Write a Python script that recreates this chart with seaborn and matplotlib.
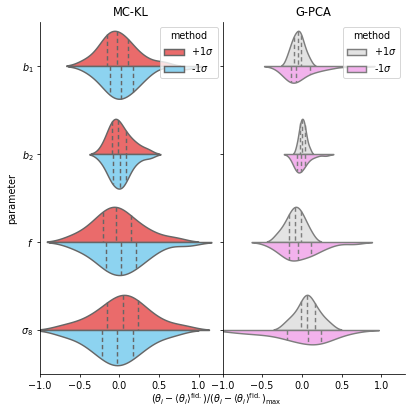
import pandas as pd
import matplotlib.pyplot as plt
import seaborn as sns

# parameters (y categories) and the two hue levels
params = ["$b_1$", "$b_2$", "$f$", "$\\sigma_8$"]
methods = ["+1$\\sigma$", "-1$\\sigma$"]

# MC-KL samples (quartiles match the dashed lines)
mckl_b1_plus = [-0.45, -0.32, -0.25, -0.20, -0.17, -0.15, -0.12, -0.10, -0.08, -0.05,
                -0.02, 0.01, 0.04, 0.07, 0.10, 0.13, 0.18, 0.25, 0.35, 0.55]
mckl_b1_minus = [-0.40, -0.28, -0.22, -0.17, -0.13, -0.11, -0.08, -0.05, -0.03, 0.0,
                 0.03, 0.06, 0.09, 0.12, 0.16, 0.19, 0.23, 0.29, 0.38, 0.80]
mckl_b2_plus = [-0.22, -0.16, -0.13, -0.11, -0.10, -0.09, -0.07, -0.05, -0.035, -0.02,
                -0.01, 0.01, 0.03, 0.06, 0.08, 0.12, 0.15, 0.20, 0.26, 0.36]
mckl_b2_minus = [-0.24, -0.17, -0.13, -0.11, -0.095, -0.083, -0.06, -0.04, -0.02, 0.0,
                 0.012, 0.03, 0.045, 0.06, 0.078, 0.095, 0.13, 0.18, 0.25, 0.38]
mckl_f_plus = [-0.62, -0.45, -0.36, -0.29, -0.24, -0.20, -0.16, -0.12, -0.09, -0.06,
               -0.03, 0.0, 0.04, 0.08, 0.13, 0.18, 0.25, 0.34, 0.46, 0.70]
mckl_f_minus = [-0.58, -0.42, -0.32, -0.25, -0.19, -0.155, -0.12, -0.08, -0.04, 0.0,
                0.03, 0.07, 0.11, 0.15, 0.20, 0.24, 0.30, 0.38, 0.50, 0.85]
mckl_s8_plus = [-0.70, -0.48, -0.36, -0.26, -0.19, -0.14, -0.09, -0.04, 0.0, 0.03,
                0.065, 0.10, 0.14, 0.18, 0.22, 0.27, 0.33, 0.42, 0.55, 0.80]
mckl_s8_minus = [-0.72, -0.52, -0.40, -0.32, -0.26, -0.21, -0.16, -0.12, -0.08, -0.045,
                 -0.01, 0.03, 0.07, 0.11, 0.16, 0.21, 0.27, 0.35, 0.47, 0.68]

# G-PCA samples
gpca_b1_plus = [-0.19, -0.16, -0.14, -0.125, -0.11, -0.10, -0.09, -0.075, -0.065, -0.055,
                -0.045, -0.035, -0.025, -0.015, -0.01, 0.005, 0.02, 0.04, 0.06, 0.10]
gpca_b1_minus = [-0.26, -0.20, -0.17, -0.155, -0.145, -0.135, -0.125, -0.115, -0.10, -0.09,
                 -0.065, -0.045, -0.02, 0.02, 0.09, 0.13, 0.18, 0.26, 0.38, 0.70]
gpca_b2_plus = [-0.07, -0.05, -0.038, -0.03, -0.024, -0.018, -0.012, -0.006, 0.0, 0.005,
                0.011, 0.016, 0.021, 0.027, 0.033, 0.04, 0.048, 0.058, 0.072, 0.10]
gpca_b2_minus = [-0.13, -0.10, -0.085, -0.075, -0.068, -0.062, -0.055, -0.047, -0.038, -0.025,
                 -0.008, 0.0, 0.01, 0.02, 0.03, 0.05, 0.08, 0.12, 0.18, 0.30]
gpca_f_plus = [-0.33, -0.27, -0.23, -0.20, -0.175, -0.155, -0.135, -0.12, -0.105, -0.09,
               -0.075, -0.06, -0.045, -0.03, -0.012, 0.005, 0.025, 0.05, 0.08, 0.13]
gpca_f_minus = [-0.40, -0.31, -0.25, -0.21, -0.17, -0.155, -0.145, -0.125, -0.105, -0.08,
                -0.015, 0.02, 0.05, 0.08, 0.11, 0.15, 0.20, 0.27, 0.37, 0.65]
gpca_s8_plus = [-0.22, -0.15, -0.11, -0.07, -0.03, 0.0, 0.01, 0.03, 0.05, 0.06,
                0.075, 0.09, 0.105, 0.12, 0.155, 0.18, 0.2, 0.24, 0.29, 0.36]
gpca_s8_minus = [-0.85, -0.65, -0.50, -0.38, -0.22, -0.17, -0.14, -0.08, -0.02, 0.04,
                 0.11, 0.13, 0.15, 0.17, 0.23, 0.27, 0.31, 0.36, 0.45, 0.62]

mckl_colors = ["#EA6B6B", "#8DD3F0"]
gpca_colors = ["#E3E3E3", "#F2B2EC"]


def to_frame(plus, minus):
    rows = []
    for p, a, b in zip(params, plus, minus):
        rows += [(p, methods[0], v) for v in a]
        rows += [(p, methods[1], v) for v in b]
    return pd.DataFrame(rows, columns=["parameter", "method", "value"])


df_mckl = to_frame([mckl_b1_plus, mckl_b2_plus, mckl_f_plus, mckl_s8_plus],
                   [mckl_b1_minus, mckl_b2_minus, mckl_f_minus, mckl_s8_minus])
df_gpca = to_frame([gpca_b1_plus, gpca_b2_plus, gpca_f_plus, gpca_s8_plus],
                   [gpca_b1_minus, gpca_b2_minus, gpca_f_minus, gpca_s8_minus])

dpi = 69.33
fig, axes = plt.subplots(1, 2, sharey=True, sharex=True,
                         figsize=(416 / dpi, 415 / dpi), dpi=dpi)
fig.subplots_adjust(left=40 / 416, right=405 / 416, bottom=41 / 415, top=393 / 415, wspace=0)

for ax, df, colors, title in [(axes[0], df_mckl, mckl_colors, "MC-KL"),
                              (axes[1], df_gpca, gpca_colors, "G-PCA")]:
    # one call per parameter so the two halves are area-normalised together
    for i, p in enumerate(params):
        sns.violinplot(data=df[df["parameter"] == p], x="value", y="parameter",
                       hue="method", order=params, hue_order=methods,
                       palette=colors, saturation=1, split=True, inner="quart",
                       inner_kws=dict(linewidth=1.5, dashes=(3, 2)),
                       common_norm=True, bw_adjust=0.85, linewidth=1.5, orient="h",
                       legend=(i == 0), ax=ax)
    sns.move_legend(ax, "upper right", title="method")
    ax.set_title(title, fontsize=12)
    ax.set_xlabel("")
    ax.set_ylabel("")
    sns.despine(ax=ax)

axes[0].set_xlim(-1, 1.3)
axes[0].set_xticks([-1.0, -0.5, 0.0, 0.5, 1.0])
axes[0].set_ylabel("parameter")
fig.text(0.52, 0.038,
         r"$(\theta_i - \langle\theta_i\rangle^{\rm fid.})/(\theta_i - \langle\theta_i\rangle^{\rm fid.})_{\rm max}$",
         ha="center", va="center", fontsize=10)

plt.savefig("out.png", dpi=dpi)
